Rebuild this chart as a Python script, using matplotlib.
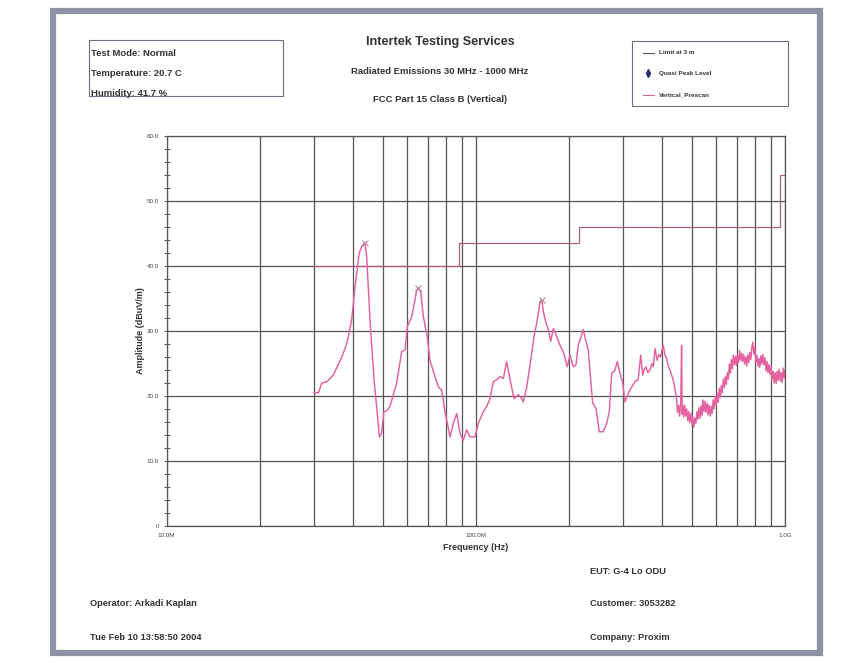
import matplotlib
matplotlib.use("Agg")
import matplotlib.pyplot as plt
from matplotlib.lines import Line2D
from matplotlib.patches import Rectangle
from matplotlib.ticker import MultipleLocator, NullFormatter

plt.rcParams['font.family'] = ['Liberation Sans', 'DejaVu Sans']

# prescan sweep, frequency in MHz and level in dBuV/m
scan_mhz = [
    30.0, 31.0, 31.8, 33.0, 34.6, 36.9, 38.3, 39.7, 40.7, 42.0, 42.8, 43.8, 44.4, 45.5,
    46.9, 47.8, 48.8, 49.6, 50.5, 51.8, 52.8, 55.5, 57.6, 59.1, 60.1, 62.1, 63.6, 64.4,
    65.2, 66.4, 67.7, 69.7, 71.1, 73.8, 75.7, 77.6, 79.5, 82.6, 84.6, 86.8, 88.9, 91.1,
    93.5, 95.8, 99.4, 101.9, 105.8, 108.5, 111.2, 114.0, 116.9, 119.8, 122.8, 125.9,
    129.1, 133.0, 137.3, 140.8, 142.5, 146.2, 150.6, 154.3, 158.1, 161.4, 163.5, 165.4,
    168.8, 171.7, 174.8, 178.2, 182.8, 187.3, 191.9, 197.7, 201.7, 206.7, 210.9, 214.5,
    218.4, 222.7, 227.2, 231.2, 235.3, 238.9, 244.8, 250.9, 258.4, 265.1, 270.3, 275.2,
    282.1, 286.9, 292.8, 298.7, 303.9, 311.4, 315.3, 327.0, 335.0, 341.5, 346.7, 350.0,
    355.0, 360.0, 366.0, 371.0, 375.0, 380.0, 386.0, 391.0, 396.0, 400.0, 404.0, 409.0,
    414.0, 419.0, 425.0, 430.0, 435.0, 441.0,
    446, 449, 453, 456, 460, 463, 465, 467, 470, 474, 477, 481, 485, 488, 492, 496, 500,
    503, 507, 511, 515, 519, 523, 527, 531, 535, 539, 543, 547, 551, 555, 560, 564, 568,
    573, 577, 581, 586, 590, 595, 599, 604, 608, 613, 618, 622, 627, 632, 637, 641, 646,
    651, 656, 661, 666, 671, 676, 681, 687, 692, 697, 702, 708, 713, 718, 724, 729, 735,
    740, 746, 752, 757, 763, 769, 775, 781, 787, 793, 799, 805, 811, 817, 823, 829, 836,
    842, 848, 855, 861, 868, 874, 881, 888, 894, 901, 908, 915, 922, 929, 936, 943, 950,
    957, 965, 972, 979, 987, 994, 1000,
]
scan_db = [
    20.5, 20.5, 22.0, 22.2, 23.2, 26.0, 28.1, 31.7, 36.8, 42.0, 43.0, 43.6, 41.4, 31.7,
    22.5, 18.4, 13.7, 14.3, 17.6, 17.8, 18.4, 22.0, 26.8, 27.1, 30.7, 32.2, 34.8, 36.3,
    36.6, 36.0, 32.2, 29.1, 25.5, 23.0, 21.4, 20.9, 17.6, 13.7, 15.8, 17.3, 14.3, 13.2,
    14.8, 13.7, 13.7, 15.8, 17.6, 18.4, 19.6, 22.2, 22.5, 23.0, 22.7, 25.3,
    22.5, 19.6, 20.2, 19.6, 19.1, 21.4, 25.5, 29.1, 31.7, 34.5, 34.8, 33.0,
    31.2, 30.2, 28.4, 30.4, 29.1, 27.8, 26.8, 24.5, 26.3, 24.5, 24.8, 27.8,
    28.9, 30.2, 28.4, 27.1, 22.5, 18.9, 18.1, 14.5, 14.5, 15.8, 17.6, 23.5,
    24.0, 25.3, 23.5, 22.0, 19.1, 20.4, 20.9, 22.2, 22.5, 26.3, 23.2, 24.0,
    24.5, 23.6, 24.0, 25.0, 24.5, 27.3, 25.5, 26.4, 26.0, 27.0, 27.8, 26.3,
    25.8, 24.6, 24.0, 23.2, 22.5, 21.0,
    19.8, 17.5, 18.6, 16.9, 18.9, 27.8, 17.2, 18.5, 16.8, 18.6, 16.9, 18.0, 16.2, 17.6,
    15.9, 17.4, 15.6, 16.9, 15.2, 16.6, 15.8, 17.6, 16.4, 18.2, 16.6, 18.5, 17.0, 19.4,
    17.6, 19.2, 17.5, 18.9, 17.1, 18.6, 16.9, 18.4, 17.3, 19.4, 18.0, 19.9, 18.6, 20.4,
    19.0, 21.2, 19.8, 21.6, 20.5, 22.6, 21.3, 23.0, 21.8, 23.6, 22.6, 24.9, 23.5, 25.6,
    24.2, 26.3, 24.8, 26.1, 24.7, 26.4, 25.2, 27.0, 25.5, 26.6, 25.3, 26.4, 24.9, 26.0,
    24.6, 26.3, 25.1, 26.7, 25.6, 27.4, 28.3, 26.4, 27.6, 25.2, 26.3, 24.6, 25.8, 24.4,
    26.2, 24.9, 26.4, 24.8, 25.9, 23.9, 25.3, 23.6, 24.9, 23.3, 24.6, 22.6, 23.8, 22.0,
    23.6, 21.9, 23.8, 22.4, 24.1, 22.3, 23.6, 22.1, 24.3, 22.8, 24.0,
]

# peak markers
peak_mhz = [43.8, 65.2, 163.5]
peak_db = [43.6, 36.6, 34.8]

# FCC Part 15 class B limit at 3 m
limit_mhz = [30, 88, 88, 216, 216, 960, 960, 1000]
limit_db = [40.0, 40.0, 43.5, 43.5, 46.0, 46.0, 54.0, 54.0]

header_left = ["Test Mode: Normal", "Temperature: 20.7 C", "Humidity: 41.7 %"]
titles = ["Radiated Emissions 30 MHz - 1000 MHz", "FCC Part 15 Class B (Vertical)"]

W, H = 858, 665
fig = plt.figure(figsize=(W / 100, H / 100), dpi=100)
fig.patch.set_facecolor('white')

def fx(px):
    return px / W

def fy(py):
    return 1 - py / H

# page frame
fig.patches.append(Rectangle((fx(53), fy(653)), fx(767), (653 - 11) / H,
                             transform=fig.transFigure, fill=False,
                             edgecolor='#8d93a5', linewidth=4.5))

ax = fig.add_axes([fx(166.5), fy(526), (785 - 166.5) / W, (526 - 136) / H])
grid_c = '#555555'
ax.plot([f * 1e6 for f in limit_mhz], limit_db, color='#b0607e', lw=0.9)
ax.plot([f * 1e6 for f in scan_mhz], scan_db, color='#e3619f', lw=1.05)
ax.plot([f * 1e6 for f in peak_mhz], peak_db, 'x', color='#b88a9c', ms=5, mew=0.8)

ax.set_xscale('log')
ax.set_xlim(1e7, 1e9)
ax.set_ylim(0, 60)
ax.set_xticks([1e7, 1e8, 1e9], ['10.0M', '100.0M', '1.0G'])
ax.xaxis.set_minor_formatter(NullFormatter())
ax.set_yticks(range(0, 61, 10), ['0', '10.0', '20.0', '30.0', '40.0', '50.0', '60.0'])
ax.yaxis.set_minor_locator(MultipleLocator(2))
ax.grid(True, which='both', axis='x', color=grid_c, lw=0.9)
ax.grid(True, which='major', axis='y', color=grid_c, lw=0.9)
ax.tick_params(axis='both', which='both', direction='inout', colors=grid_c,
               labelsize=4.5, labelcolor='#444444', length=4, width=0.7)
ax.tick_params(axis='x', which='both', length=0, pad=5)
for s in ax.spines.values():
    s.set_color(grid_c)
    s.set_linewidth(0.9)
ax.set_xlabel('Frequency (Hz)', fontsize=6.5, fontweight='bold', color='#333333', labelpad=4)
ax.set_ylabel('Amplitude (dBuV/m)', fontsize=6.5, fontweight='bold', color='#333333', labelpad=1)

# header text
bold = dict(fontweight='bold', color='#333333')
fig.text(fx(440), fy(42), 'Intertek Testing Services', fontsize=9.1, ha='center', va='center', **bold)
for t, py in zip(titles, [72, 99]):
    fig.text(fx(440), fy(py), t, fontsize=6.8, ha='center', va='center', **bold)

fig.patches.append(Rectangle((fx(89), fy(96)), fx(194), 56 / H, transform=fig.transFigure,
                             fill=False, edgecolor='#6a6f80', linewidth=0.8))
for t, py in zip(header_left, [53, 74, 93]):
    fig.text(fx(91), fy(py), t, fontsize=6.8, ha='left', va='center', **bold)

# legend box
fig.patches.append(Rectangle((fx(632), fy(106)), fx(156), 65 / H, transform=fig.transFigure,
                             fill=False, edgecolor='#6a6f80', linewidth=0.8))
legend_items = [
    (Line2D([fx(643), fx(654)], [fy(53), fy(53)], color='#505565', lw=0.8), 'Limit at 3 m', 53),
    (Line2D([fx(648)], [fy(73)], marker='d', color='#2a3070', ms=4, lw=0), 'Quasi Peak Level', 73),
    (Line2D([fx(643), fx(654)], [fy(95), fy(95)], color='#e3619f', lw=0.8), 'Vertical_Prescan', 95),
]
for handle, label, py in legend_items:
    handle.set_transform(fig.transFigure)
    fig.add_artist(handle)
    fig.text(fx(659), fy(py), label, fontsize=4.6, ha='left', va='center', **bold)

# footer
footer = [
    ('EUT: G-4 Lo ODU', 590, 571),
    ('Operator: Arkadi Kaplan', 90, 604),
    ('Customer: 3053282', 590, 604),
    ('Tue Feb 10 13:58:50 2004', 90, 637),
    ('Company: Proxim', 590, 637),
]
for t, px, py in footer:
    fig.text(fx(px), fy(py), t, fontsize=6.7, ha='left', va='center', **bold)

fig.savefig('out.png', dpi=100)
